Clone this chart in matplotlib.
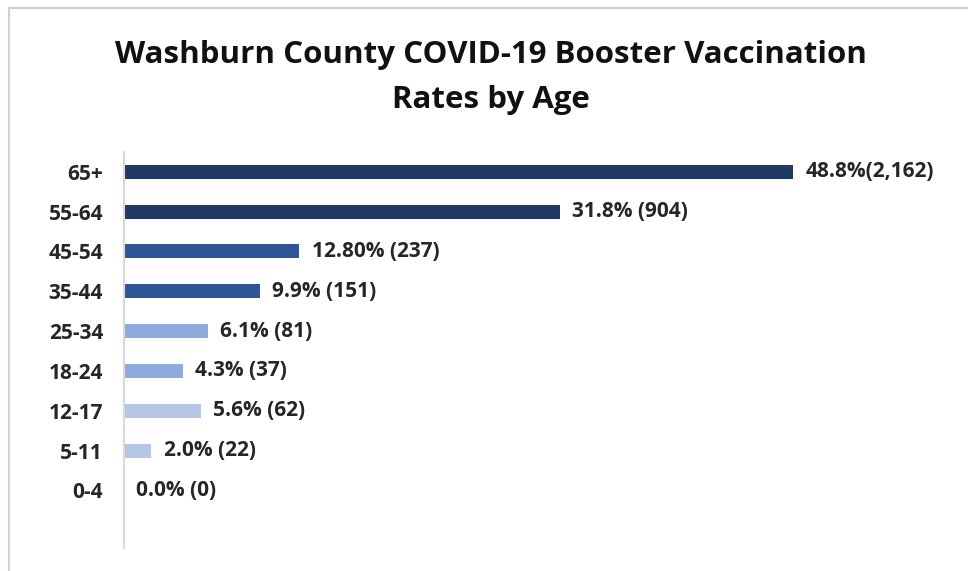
import matplotlib.pyplot as plt
from matplotlib.lines import Line2D

ages = ['65+', '55-64', '45-54', '35-44', '25-34', '18-24', '12-17', '5-11', '0-4']
pct = [48.8, 31.8, 12.8, 9.9, 6.1, 4.3, 5.6, 2.0, 0.0]
labels = ['48.8%(2,162)', '31.8% (904)', '12.80% (237)', '9.9% (151)', '6.1% (81)',
          '4.3% (37)', '5.6% (62)', '2.0% (22)', '0.0% (0)']
colors = ['#1F3864', '#1F3864', '#2F5597', '#2F5597', '#8FAADC', '#8FAADC',
          '#B4C7E7', '#B4C7E7', '#B4C7E7']

plt.rcParams['font.family'] = ['Open Sans', 'DejaVu Sans']

fig = plt.figure(figsize=(9.68, 5.71), dpi=100)
ax = fig.add_axes([0.128, 0.040, 0.850, 0.694])

y = list(range(len(ages)))
ax.barh(y, pct, height=0.35, color=colors)
for yi, v, t in zip(y, pct, labels):
    ax.text(v + 0.9, yi, t, va='center', ha='left', fontsize=15,
            fontweight='bold', color='#262626')

ax.set_yticks(y)
ax.set_yticklabels(ages, fontsize=15, fontweight='bold', color='#262626')
ax.tick_params(axis='y', length=0, pad=15)
ax.set_xticks([])
ax.set_xlim(0, 60)
ax.set_ylim(9.45, -0.5)
for s in ['top', 'right', 'bottom']:
    ax.spines[s].set_visible(False)
ax.spines['left'].set_color('#D9D9D9')
ax.spines['left'].set_linewidth(1.5)

fig.text(0.507, 0.864, 'Washburn County COVID-19 Booster Vaccination\nRates by Age',
         ha='center', va='center', fontsize=22.5, fontweight='bold',
         color='#111111', linespacing=1.68)

# frame edges of the chart box
fig.add_artist(Line2D([0.009, 0.009], [0, 0.986], transform=fig.transFigure,
                      color='#D0D0D0', lw=1.5))
fig.add_artist(Line2D([0.009, 1], [0.986, 0.986], transform=fig.transFigure,
                      color='#D0D0D0', lw=1.5))

fig.savefig('out.png', dpi=100)
